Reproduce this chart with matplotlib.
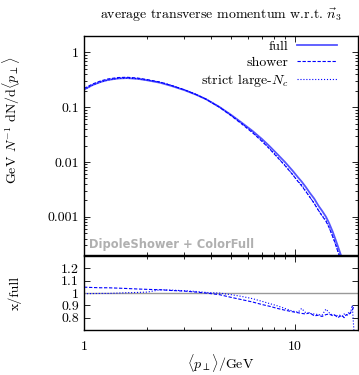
import numpy as np
import matplotlib
matplotlib.use('Agg')
import matplotlib.pyplot as plt
from matplotlib.ticker import LogLocator, NullFormatter

plt.rcParams['font.family'] = 'serif'
plt.rcParams['font.serif'] = ['cmr10']
plt.rcParams['mathtext.fontset'] = 'cm'
plt.rcParams['axes.formatter.use_mathtext'] = True
plt.rcParams['font.size'] = 10

# <p_perp> bin centres (GeV)
pt = [1.0, 1.1, 1.2, 1.3, 1.45, 1.6, 1.8, 2.0, 2.3, 2.6, 3.0, 3.4, 3.8, 4.4,
      5.0, 5.6, 6.3, 7.0, 7.6, 8.3, 9.0, 9.8, 10.4, 10.8, 11.3, 11.8, 12.4,
      13.0, 13.5, 14.1, 14.6, 15.2, 15.6, 16.0, 16.4, 16.8, 17.2, 17.6, 18.0,
      18.4, 18.8, 19.2]

# full distribution
full = [0.21, 0.255, 0.29, 0.315, 0.335, 0.34, 0.33, 0.31, 0.28, 0.245, 0.205,
        0.17, 0.14, 0.101, 0.0724, 0.0525, 0.0372, 0.0263, 0.0195, 0.0138,
        0.0100, 0.0069, 0.0052, 0.0044, 0.0035, 0.00275, 0.00214, 0.00158,
        0.00129, 0.0010, 0.00076, 0.000525, 0.000398, 0.000302, 0.000229,
        0.000174, 0.000126, 9.3e-5, 6.9e-5, 5.1e-5, 3.8e-5, 2.8e-5]

# ratios to full
r_shower = [1.048, 1.045, 1.043, 1.043, 1.04, 1.037, 1.033, 1.03, 1.027, 1.021,
            1.016, 1.008, 1.0, 0.987, 0.965, 0.947, 0.928, 0.907, 0.893, 0.875,
            0.861, 0.848, 0.84, 0.835, 0.83, 0.84, 0.815, 0.82, 0.81, 0.825,
            0.83, 0.815, 0.82, 0.80, 0.81, 0.82, 0.80, 0.825, 0.82, 0.84, 0.86,
            0.90]
r_strict = [0.995, 0.996, 0.997, 0.997, 1.0, 1.003, 1.005, 1.008, 1.027, 1.024,
            1.019, 1.013, 1.005, 1.0, 0.987, 0.973, 0.955, 0.933, 0.915, 0.896,
            0.875, 0.853, 0.845, 0.875, 0.84, 0.835, 0.83, 0.825, 0.82, 0.87,
            0.84, 0.82, 0.825, 0.815, 0.82, 0.81, 0.83, 0.82, 0.84, 0.83, 0.90,
            0.66]

main_ticks = [0.001, 0.01, 0.1, 1]
main_labels = ['0.001', '0.01', '0.1', '1']
ratio_ticks = [0.8, 0.9, 1.0, 1.1, 1.2]
ratio_labels = ['0.8', '0.9', '1', '1.1', '1.2']

shower = np.array(full) * np.array(r_shower)
strict = np.array(full) * np.array(r_strict)

fig = plt.figure(figsize=(3.59, 3.75), dpi=100)
ax = fig.add_axes([0.234, 0.32, 0.763, 0.584])
axr = fig.add_axes([0.234, 0.12, 0.763, 0.197], sharex=ax)

ax.plot(pt, full, '-', color='#5555ff', lw=1.3, label='full')
ax.plot(pt, shower, '--', color='#0000ff', lw=0.8, dashes=(3, 1.5), label='shower')
ax.plot(pt, strict, ':', color='#0000ff', lw=0.8, label='strict large-$N_c$')

ax.set_xscale('log')
ax.set_yscale('log')
ax.set_xlim(1, 20)
ax.set_ylim(2e-4, 2)
ax.set_yticks(main_ticks, main_labels)
ax.yaxis.set_minor_locator(LogLocator(base=10, subs=np.arange(2, 10), numticks=20))
ax.yaxis.set_minor_formatter(NullFormatter())
ax.tick_params(axis='x', which='both', labelbottom=False)
ax.set_title(r'average transverse momentum w.r.t. $\vec{n}_3$', fontsize=10, pad=12)
ax.set_ylabel(r'GeV $N^{-1}$ dN/d$\langle p_\perp\rangle$')
ax.yaxis.set_label_coords(-0.225, 0.616)
ax.text(0.018, 0.02, 'DipoleShower + ColorFull', transform=ax.transAxes,
        family='DejaVu Sans', fontweight='bold', fontsize=8.3, color='#b0b0b0',
        ha='left', va='bottom')
ax.legend(loc='upper right', bbox_to_anchor=(0.955, 1.02), frameon=False,
          markerfirst=False, handlelength=2.9, labelspacing=0.25,
          borderaxespad=0.2, handletextpad=0.6)

axr.axhline(1.0, color='#999999', lw=1.0)
axr.plot(pt, r_shower, '--', color='#0000ff', lw=0.8, dashes=(3, 1.5))
axr.plot(pt, r_strict, ':', color='#0000ff', lw=0.8)
axr.set_ylim(0.7, 1.3)
axr.set_yticks(ratio_ticks, ratio_labels)
axr.set_xticks([1, 10], ['1', '10'])
axr.xaxis.set_minor_formatter(NullFormatter())
axr.set_ylabel('x/full')
axr.yaxis.set_label_coords(-0.228, 0.5)
axr.set_xlabel(r'$\langle p_\perp\rangle$/GeV', labelpad=-1)

for a in (ax, axr):
    a.tick_params(which='both', direction='in', top=True, right=True, width=0.6)
    a.tick_params(which='major', length=4)
    a.tick_params(which='minor', length=2)
    for s in a.spines.values():
        s.set_linewidth(1.0)
axr.tick_params(axis='x', which='major', pad=8)

fig.savefig('out.png', dpi=100)
